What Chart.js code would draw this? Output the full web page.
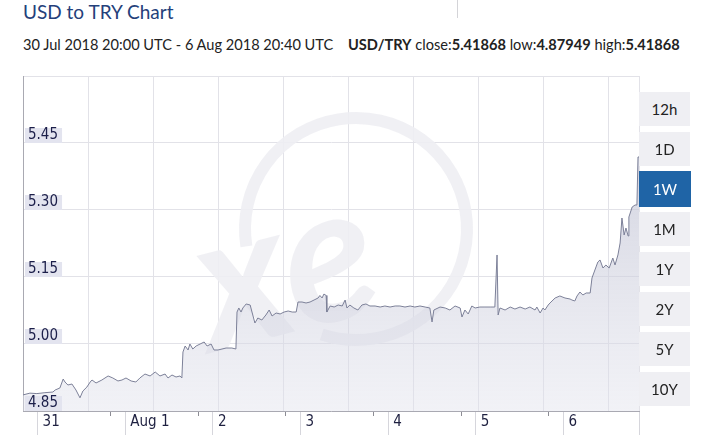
<!DOCTYPE html>
<html>
<head>
<meta charset="utf-8">
<script src="https://cdn.jsdelivr.net/npm/chart.js@4.4.0/dist/chart.umd.min.js"></script>
<style>
  body { margin: 0; width: 715px; height: 435px; overflow: hidden; background: #fff; position: relative; font-family: Lato, "Open Sans", sans-serif; }
  #title { position: absolute; left: 23px; top: 0px; font-size: 19px; color: #24407a; white-space: nowrap; }
  #sep { position: absolute; left: 457px; top: 0; width: 1px; height: 18px; background: #d4d4d8; }
  #sub { position: absolute; left: 23px; top: 36px; font-size: 14.6px; color: #222; white-space: nowrap; }
  #sub b { margin-left: 11px; }
  #sub b.v { margin-left: 0; }
  #wrap { position: absolute; left: 0; top: 60px; width: 645px; height: 375px; }
  .btn { position: absolute; left: 639px; width: 51px; height: 34px; line-height: 34px; background: #efeff3; text-align: center; font-size: 15px; color: #222; }
  .btn.on { background: #1f64a6; color: #fff; height: 36px; line-height: 36px; width: 52px; }
</style>
</head>
<body>
<div id="title">USD to TRY Chart</div>
<div id="sep"></div>
<div id="sub">30 Jul 2018 20:00 UTC - 6 Aug 2018 20:40 UTC <b>USD/TRY</b> close:<b class="v">5.41868</b> low:<b class="v">4.87949</b> high:<b class="v">5.41868</b></div>
<div id="wrap"><canvas id="chart" width="645" height="375"></canvas></div>
<div class="btn" style="top:92px">12h</div>
<div class="btn" style="top:132px">1D</div>
<div class="btn on" style="top:171px">1W</div>
<div class="btn" style="top:212px">1M</div>
<div class="btn" style="top:252px">1Y</div>
<div class="btn" style="top:292px">2Y</div>
<div class="btn" style="top:332px">5Y</div>
<div class="btn" style="top:372px">10Y</div>
<script>
// hours since 30 Jul 2018 20:00 UTC
const hours = [
  0.0, 1.9, 3.8, 6.0, 8.2, 8.8, 10.1, 11.0, 11.5, 12.3, 13.4, 14.5, 15.6, 16.4, 17.5, 18.4, 18.9, 20.0, 21.6, 23.3,
  24.6, 26.0, 27.1, 28.2, 29.6, 30.9, 32.0, 33.4, 34.8, 36.2, 37.5, 38.9, 39.7, 40.8, 41.9, 43.0, 43.5, 43.8, 44.4, 45.2,
  45.7, 46.5, 47.4, 48.5, 49.6, 50.4, 51.5, 52.3, 53.4, 55.6, 57.2, 58.3, 58.6, 59.1, 59.7, 60.2, 61.1, 62.2, 62.7, 63.5,
  64.3, 65.4, 66.5, 67.4, 68.2, 69.3, 70.4, 71.5, 72.6, 73.7, 74.8, 75.3, 76.4, 77.5, 78.6, 79.7, 80.8, 81.3, 81.9, 82.4,
  83.0, 83.2, 84.1, 85.2, 86.3, 87.4, 88.2, 88.7, 89.5, 90.6, 91.7, 92.8, 93.9, 95.0, 96.4, 97.8, 99.1, 100.5, 101.9, 103.2,
  104.6, 106.0, 107.3, 108.7, 110.1, 111.4, 112.0, 112.5, 114.2, 115.6, 116.9, 118.3, 119.7, 120.2, 121.0, 121.9, 122.9, 123.8, 125.1, 126.5,
  127.9, 129.2, 129.8, 130.1, 130.6, 132.0, 133.4, 134.7, 136.1, 137.5, 138.8, 140.2, 140.7, 141.6, 142.4, 142.9, 143.8, 144.3, 145.7, 147.0,
  148.4, 149.8, 150.3, 151.1, 151.7, 152.5, 153.3, 154.2, 155.3, 155.8, 156.9, 157.4, 158.0, 158.8, 159.6, 160.5, 161.5, 162.1, 162.9, 163.5,
  164.0, 164.6, 165.1, 165.7, 165.9, 166.8, 167.6, 168.1, 168.4, 168.67
];
const rates = [
  4.886, 4.890, 4.889, 4.891, 4.8925, 4.897, 4.9015, 4.9216, 4.9149, 4.9082, 4.9104, 4.897, 4.8795, 4.8948, 4.9037, 4.9149, 4.9194, 4.9127, 4.9194, 4.9284,
  4.9239, 4.9172, 4.9194, 4.9239, 4.9172, 4.9149, 4.9239, 4.9328, 4.9284, 4.9373, 4.9284, 4.9328, 4.9239, 4.9306, 4.9261, 4.9284, 4.9239, 4.9821, 4.9955, 4.9866,
  5.0000, 4.9888, 4.9955, 5.0000, 5.0045, 4.9955, 5.0000, 4.9866, 4.9866, 4.9910, 4.9910, 4.9888, 5.0716, 5.0806, 5.0716, 5.0806, 5.0896, 5.0873, 5.0716, 5.0470,
  5.0582, 5.0537, 5.0649, 5.0761, 5.0627, 5.0694, 5.0672, 5.0716, 5.0739, 5.0716, 5.0716, 5.0940, 5.0940, 5.0918, 5.0940, 5.0985, 5.1030, 5.1086, 5.1030, 5.1119,
  5.1086, 5.0716, 5.0851, 5.0828, 5.0873, 5.0851, 5.0985, 5.0806, 5.0873, 5.0806, 5.0761, 5.0873, 5.0896, 5.0851, 5.0851, 5.0828, 5.0851, 5.0828, 5.0851, 5.0851,
  5.0828, 5.0851, 5.0828, 5.0851, 5.0828, 5.0806, 5.0493, 5.0761, 5.0828, 5.0806, 5.0761, 5.0851, 5.0806, 5.0604, 5.0761, 5.0672, 5.0851, 5.0806, 5.0828, 5.0828,
  5.0828, 5.0828, 5.1993, 5.0649, 5.0806, 5.0761, 5.0828, 5.0783, 5.0828, 5.0783, 5.0828, 5.0761, 5.0828, 5.0694, 5.0806, 5.0761, 5.0873, 5.0918, 5.1030, 5.1075,
  5.1030, 5.1007, 5.0985, 5.0963, 5.1075, 5.1164, 5.1097, 5.1142, 5.1142, 5.1478, 5.1724, 5.1835, 5.1881, 5.1701, 5.1769, 5.1701, 5.1925, 5.1769, 5.1993, 5.2261,
  5.2821, 5.2440, 5.2597, 5.2418, 5.2843, 5.3067, 5.3112, 5.3112, 5.4187, 5.41868
];
const yTickValues = [4.85, 5.00, 5.15, 5.30, 5.45, 5.60];
const dayTickHours = [4, 28, 52, 76, 100, 124, 148];
const dayLabels = ['31', 'Aug 1', '2', '3', '4', '5', '6'];
const minorTickHours = [24, 48, 72, 96, 120, 144];
const endHour = 168.67;

const narrow = "'Liberation Sans Narrow', 'DejaVu Sans Condensed', 'Liberation Sans', sans-serif";
const gridStep = 17.8; // background grid every 65px, not tied to days

//faint xe logo behind the line
const watermark = {
  id: 'watermark',
  beforeDatasetsDraw(chart) {
    const { ctx, chartArea } = chart;
    ctx.save();
    ctx.beginPath();
    ctx.rect(chartArea.left, chartArea.top, chartArea.width, chartArea.height);
    ctx.clip();
    ctx.strokeStyle = 'rgba(238,238,243,0.9)';
    ctx.lineWidth = 12;
    ctx.beginPath();
    ctx.arc(356, 169, 111, Math.PI * 0.95, Math.PI * 2.6);
    ctx.stroke();
    ctx.translate(300, 270);
    ctx.rotate(-0.25);
    ctx.font = 'italic bold 190px Lato, sans-serif';
    ctx.fillStyle = 'rgba(238,238,243,0.9)';
    ctx.textAlign = 'center';
    ctx.fillText('xe', 0, 0);
    ctx.restore();
  }
};

let ctx = document.getElementById('chart').getContext('2d');
let chart = new Chart(ctx, {
  type: 'line',
  data: {
    datasets: [{
      data: hours.map((h, i) => ({ x: h, y: rates[i] })),
      borderColor: '#7c8098',
      borderWidth: 1,
      pointRadius: 0,
      tension: 0,
      fill: 'start',
      backgroundColor: c => {
        const area = c.chart.chartArea;
        if (!area) return 'rgba(220,221,232,0.6)';
        const g = c.chart.ctx.createLinearGradient(0, area.top, 0, area.bottom);
        g.addColorStop(0, 'rgba(180,182,202,0.75)');
        g.addColorStop(1, 'rgba(225,226,236,0.45)');
        return g;
      }
    }]
  },
  options: {
    responsive: false,
    animation: false,
    devicePixelRatio: 1,
    layout: { padding: { left: 23, right: 6, top: 16, bottom: 0 } },
    plugins: { legend: { display: false }, tooltip: { enabled: false } },
    scales: {
      x: {
        type: 'linear',
        min: 0,
        max: endHour,
        afterBuildTicks: scale => {
          let t = [];
          for (let h = gridStep; h < endHour - 1; h += gridStep) t.push({ value: h, kind: 'grid' });
          t.push({ value: endHour, kind: 'edge' });
          dayTickHours.forEach((h, i) => t.push({ value: h, kind: 'day', text: dayLabels[i] }));
          minorTickHours.forEach(h => t.push({ value: h, kind: 'minor' }));
          t.sort((a, b) => a.value - b.value);
          scale.ticks = t;
        },
        afterFit: scale => {
          scale.height = 24;
          scale.paddingLeft = 0;
          scale.paddingRight = 0;
        },
        border: { color: '#a9a9b2' },
        grid: {
          color: c => (c.tick && (c.tick.kind === 'grid' || c.tick.kind === 'edge')) ? '#e2e2e8' : 'rgba(0,0,0,0)',
          tickColor: c => {
            if (!c.tick) return 'rgba(0,0,0,0)';
            if (c.tick.kind === 'day' || c.tick.kind === 'edge') return '#d6d6dc';
            if (c.tick.kind === 'minor') return '#8c8c94';
            return 'rgba(0,0,0,0)';
          },
          tickBorderDash: c => (c.tick && c.tick.kind === 'minor') ? [4, 60] : [],
          tickLength: 24
        },
        ticks: {
          autoSkip: false,
          maxRotation: 0,
          align: 'start',
          labelOffset: 5,
          padding: -22,
          color: '#1e2040',
          font: { family: narrow, size: 15 },
          callback: (v, i, ticks) => ticks[i].kind === 'day' ? ticks[i].text : ''
        }
      },
      y: {
        min: 4.85,
        max: 5.60,
        afterBuildTicks: scale => {
          scale.ticks = yTickValues.map(v => ({ value: v }));
        },
        afterFit: scale => {
          scale.width = 0;
          scale.paddingTop = 0;
          scale.paddingBottom = 0;
        },
        border: { color: '#a9a9b2' },
        grid: { color: '#e2e2e8', drawTicks: false },
        ticks: {
          z: 1,
          mirror: true,
          padding: 5,
          labelOffset: -7.5,
          color: '#1c1f4a',
          font: { family: narrow, size: 15, lineHeight: 1 },
          showLabelBackdrop: true,
          backdropColor: c => (c.tick && c.tick.value >= 5.6) ? 'rgba(0,0,0,0)' : '#e3e4ef',
          backdropPadding: { left: 3, right: 4, top: 0, bottom: 0 },
          callback: v => v >= 5.6 ? '' : v.toFixed(2)
        }
      }
    }
  },
  plugins: [watermark]
});
</script>
</body>
</html>
